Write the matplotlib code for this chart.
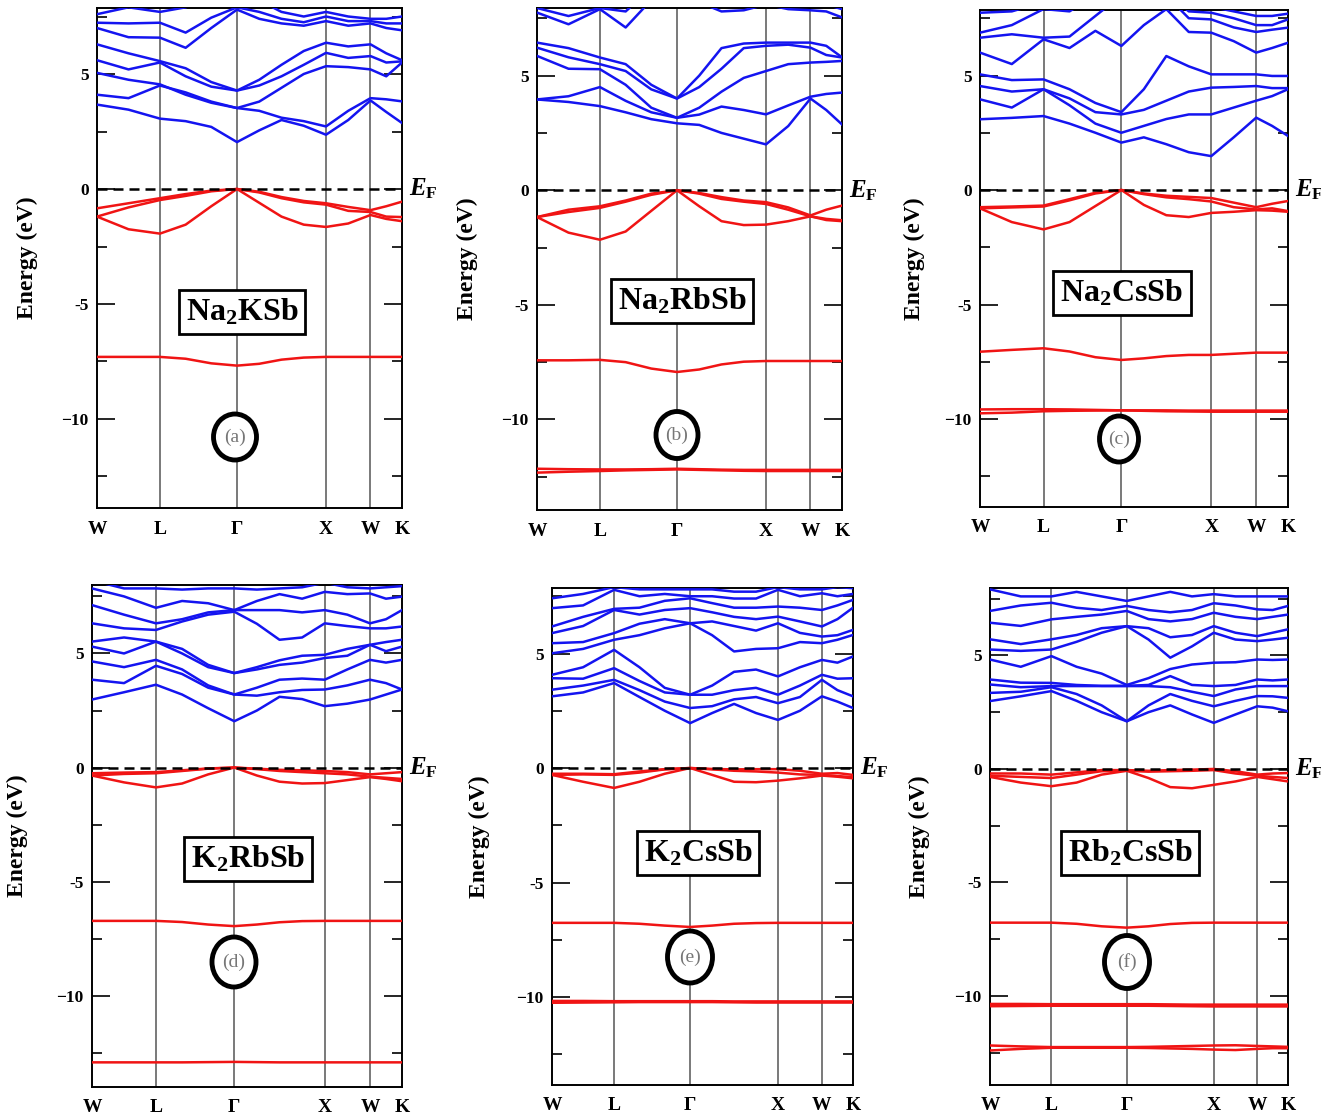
import matplotlib
matplotlib.use('Agg')
import matplotlib.pyplot as plt
from matplotlib.patches import Ellipse

plt.rcParams['font.family'] = ['Liberation Serif', 'DejaVu Serif']
plt.rcParams['font.weight'] = 'bold'
plt.rcParams['mathtext.fontset'] = 'custom'
plt.rcParams['mathtext.rm'] = 'Liberation Serif:bold'
plt.rcParams['mathtext.it'] = 'Liberation Serif:italic:bold'
plt.rcParams['mathtext.bf'] = 'Liberation Serif:bold'

# ---------------- data ----------------
kpath_labels = ['W', 'L', 'Γ', 'X', 'W', 'K']
kpath_ticks = [0.0, 0.707, 1.573, 2.573, 3.073, 3.427]
# sampling points along W-L-Γ-X-W-K
k_nodes = [0.0, 0.354, 0.707, 0.996, 1.284, 1.573, 1.823, 2.073, 2.323, 2.573, 2.823, 3.073, 3.250, 3.427]

compounds = ['Na$_2$KSb', 'Na$_2$RbSb', 'Na$_2$CsSb', 'K$_2$RbSb', 'K$_2$CsSb', 'Rb$_2$CsSb']
panel_letters = ['(a)', '(b)', '(c)', '(d)', '(e)', '(f)']

# ---- (a) Na2KSb ----
a_vb1 = [-0.84, -0.62, -0.40, -0.22, -0.07, 0.00, -0.12, -0.35, -0.52, -0.62, -0.78, -0.92, -0.75, -0.55]
a_vb2 = [-1.20, -0.80, -0.48, -0.30, -0.10, 0.00, -0.15, -0.40, -0.58, -0.68, -0.95, -1.00, -1.20, -1.22]
a_vb3 = [-1.20, -1.75, -1.94, -1.55, -0.75, 0.00, -0.60, -1.20, -1.55, -1.65, -1.50, -1.13, -1.30, -1.40]
a_s = [-7.30, -7.30, -7.30, -7.38, -7.58, -7.68, -7.60, -7.42, -7.33, -7.30, -7.30, -7.30, -7.30, -7.30]
a_c1 = [3.67, 3.45, 3.06, 2.95, 2.70, 2.04, 2.55, 3.00, 2.75, 2.36, 3.00, 3.85, 3.35, 2.87]
a_c2 = [4.10, 3.95, 4.50, 4.20, 3.80, 3.52, 3.40, 3.10, 2.95, 2.72, 3.40, 3.95, 3.90, 3.81]
a_c3 = [5.05, 4.75, 4.55, 4.10, 3.75, 3.52, 3.80, 4.40, 5.00, 5.34, 5.30, 5.20, 4.90, 5.50]
a_c4 = [5.60, 5.20, 5.50, 4.90, 4.45, 4.28, 4.50, 4.90, 5.40, 5.92, 5.70, 5.78, 5.50, 5.55]
a_c5 = [6.29, 5.90, 5.56, 5.25, 4.65, 4.28, 4.75, 5.40, 6.00, 6.36, 6.20, 6.29, 5.90, 5.60]
a_c6 = [7.00, 6.60, 6.58, 6.14, 7.00, 7.80, 7.40, 7.20, 7.10, 7.30, 7.10, 7.20, 7.00, 6.90]
a_c7 = [7.23, 7.20, 7.23, 6.80, 7.45, 7.90, 7.70, 7.40, 7.25, 7.50, 7.30, 7.30, 7.20, 7.20]
a_c8 = [7.60, 7.90, 7.70, 7.90, 8.30, 8.40, 8.20, 7.70, 7.50, 7.70, 7.50, 7.40, 7.40, 7.50]

# ---- (b) Na2RbSb ----
b_vb1 = [-1.17, -0.85, -0.70, -0.45, -0.15, 0.00, -0.12, -0.30, -0.45, -0.52, -0.75, -1.10, -0.85, -0.67]
b_vb2 = [-1.17, -0.95, -0.77, -0.50, -0.20, 0.00, -0.15, -0.38, -0.50, -0.60, -0.85, -1.14, -1.25, -1.31]
b_vb3 = [-1.17, -1.85, -2.16, -1.80, -0.90, 0.00, -0.70, -1.35, -1.52, -1.50, -1.35, -1.14, -1.30, -1.35]
b_s = [-7.42, -7.42, -7.40, -7.50, -7.78, -7.93, -7.82, -7.60, -7.48, -7.45, -7.45, -7.45, -7.45, -7.45]
b_d1 = [-12.15, -12.17, -12.18, -12.18, -12.17, -12.15, -12.17, -12.19, -12.20, -12.20, -12.20, -12.20, -12.20, -12.20]
b_d2 = [-12.32, -12.28, -12.25, -12.22, -12.20, -12.18, -12.20, -12.22, -12.24, -12.25, -12.25, -12.25, -12.25, -12.25]
b_c1 = [3.96, 3.85, 3.67, 3.40, 3.10, 2.92, 2.85, 2.50, 2.25, 2.00, 2.80, 4.00, 3.50, 2.87]
b_c2 = [3.96, 4.10, 4.50, 3.90, 3.40, 3.16, 3.30, 3.65, 3.50, 3.31, 3.70, 4.08, 4.20, 4.26]
b_c3 = [5.86, 5.30, 5.28, 4.60, 3.60, 3.16, 3.60, 4.30, 4.90, 5.20, 5.50, 5.57, 5.60, 5.64]
b_c4 = [6.22, 5.80, 5.50, 5.20, 4.40, 4.00, 4.50, 5.30, 6.20, 6.30, 6.35, 6.22, 5.90, 5.79]
b_c5 = [6.44, 6.20, 5.79, 5.50, 4.60, 4.00, 5.00, 6.20, 6.40, 6.44, 6.44, 6.44, 6.30, 5.80]
b_c6 = [7.75, 7.24, 7.90, 7.10, 8.30, 9.00, 8.20, 7.80, 7.85, 8.10, 7.90, 7.85, 7.80, 7.54]
b_c7 = [7.95, 7.60, 7.95, 7.80, 8.80, 9.20, 8.60, 8.10, 8.00, 8.30, 8.00, 8.20, 8.10, 7.90]

# ---- (c) Na2CsSb ----
c_vb1 = [-0.75, -0.72, -0.68, -0.40, -0.12, 0.00, -0.15, -0.25, -0.30, -0.35, -0.55, -0.75, -0.60, -0.48]
c_vb2 = [-0.80, -0.76, -0.72, -0.45, -0.15, 0.00, -0.18, -0.32, -0.40, -0.50, -0.75, -0.85, -0.80, -0.92]
c_vb3 = [-0.80, -1.40, -1.72, -1.40, -0.70, 0.00, -0.65, -1.10, -1.18, -1.00, -0.95, -0.88, -0.90, -0.95]
c_s = [-7.06, -6.98, -6.91, -7.05, -7.30, -7.42, -7.35, -7.25, -7.20, -7.20, -7.15, -7.10, -7.10, -7.10]
c_d1 = [-9.58, -9.57, -9.57, -9.58, -9.60, -9.62, -9.62, -9.62, -9.63, -9.63, -9.63, -9.63, -9.63, -9.63]
c_d2 = [-9.75, -9.72, -9.66, -9.64, -9.63, -9.62, -9.64, -9.66, -9.67, -9.68, -9.68, -9.68, -9.68, -9.68]
c_c1 = [3.09, 3.15, 3.23, 2.90, 2.50, 2.07, 2.30, 2.00, 1.65, 1.48, 2.30, 3.16, 2.80, 2.36]
c_c2 = [3.96, 3.60, 4.40, 3.70, 2.90, 2.50, 2.80, 3.10, 3.30, 3.30, 3.60, 3.90, 4.10, 4.40]
c_c3 = [4.54, 4.30, 4.40, 4.00, 3.40, 3.30, 3.50, 3.90, 4.30, 4.47, 4.50, 4.54, 4.45, 4.45]
c_c4 = [5.05, 4.80, 4.83, 4.40, 3.80, 3.40, 4.40, 5.85, 5.40, 5.05, 5.05, 5.05, 4.98, 4.98]
c_c5 = [6.00, 5.50, 6.58, 6.20, 6.95, 6.29, 7.20, 7.90, 6.90, 6.87, 6.50, 6.00, 6.20, 6.43]
c_c6 = [6.65, 6.80, 6.65, 6.70, 7.60, 8.50, 8.30, 8.50, 7.50, 7.45, 7.10, 6.90, 7.00, 7.09]
c_c7 = [6.87, 7.20, 7.90, 7.80, 8.50, 9.00, 8.80, 8.60, 7.80, 7.74, 7.50, 7.20, 7.20, 7.45]
c_c8 = [7.74, 7.80, 8.20, 8.50, 9.00, 9.50, 9.00, 9.00, 8.20, 8.00, 7.80, 7.60, 7.60, 7.70]

# ---- (d) K2RbSb ----
d_vb1 = [-0.25, -0.22, -0.20, -0.12, -0.04, 0.00, -0.05, -0.10, -0.12, -0.15, -0.20, -0.30, -0.25, -0.20]
d_vb2 = [-0.35, -0.28, -0.25, -0.15, -0.05, 0.00, -0.07, -0.15, -0.20, -0.25, -0.30, -0.40, -0.45, -0.50]
d_vb3 = [-0.35, -0.65, -0.87, -0.70, -0.30, 0.00, -0.35, -0.62, -0.70, -0.68, -0.55, -0.42, -0.50, -0.60]
d_s = [-6.72, -6.72, -6.72, -6.77, -6.88, -6.95, -6.88, -6.78, -6.73, -6.72, -6.72, -6.72, -6.72, -6.72]
d_d1 = [-12.92, -12.92, -12.92, -12.92, -12.91, -12.90, -12.91, -12.92, -12.92, -12.92, -12.92, -12.92, -12.92, -12.92]
d_c1 = [2.98, 3.30, 3.63, 3.20, 2.60, 2.03, 2.50, 3.10, 3.00, 2.69, 2.80, 2.98, 3.20, 3.42]
d_c2 = [3.85, 3.70, 4.46, 4.10, 3.50, 3.20, 3.15, 3.30, 3.40, 3.42, 3.60, 3.85, 3.70, 3.42]
d_c3 = [4.65, 4.40, 4.72, 4.30, 3.60, 3.20, 3.50, 3.85, 3.90, 3.85, 4.30, 4.72, 4.60, 4.72]
d_c4 = [5.30, 5.00, 5.52, 5.00, 4.40, 4.14, 4.30, 4.50, 4.60, 4.80, 4.90, 5.38, 5.10, 5.30]
d_c5 = [5.52, 5.70, 5.52, 5.20, 4.50, 4.14, 4.40, 4.70, 4.90, 4.94, 5.20, 5.38, 5.50, 5.60]
d_c6 = [6.32, 6.10, 6.03, 6.40, 6.70, 6.83, 6.30, 5.60, 5.70, 6.32, 6.20, 6.10, 6.10, 6.18]
d_c7 = [7.12, 6.70, 6.32, 6.50, 6.80, 6.90, 6.90, 6.90, 6.80, 6.90, 6.70, 6.32, 6.50, 6.90]
d_c8 = [7.85, 7.50, 7.00, 7.30, 7.20, 6.90, 7.30, 7.60, 7.40, 7.70, 7.60, 7.63, 7.40, 7.49]
d_c9 = [8.20, 7.85, 7.85, 7.80, 7.85, 7.85, 7.80, 7.85, 7.90, 8.10, 7.90, 7.85, 7.90, 7.95]

# ---- (e) K2CsSb ----
e_vb1 = [-0.25, -0.25, -0.27, -0.15, -0.05, 0.00, -0.04, -0.06, -0.05, -0.05, -0.12, -0.25, -0.22, -0.30]
e_vb2 = [-0.30, -0.28, -0.30, -0.20, -0.06, 0.00, -0.06, -0.12, -0.15, -0.20, -0.28, -0.30, -0.35, -0.40]
e_vb3 = [-0.30, -0.60, -0.87, -0.60, -0.25, 0.00, -0.30, -0.60, -0.62, -0.55, -0.45, -0.33, -0.38, -0.45]
e_s = [-6.76, -6.76, -6.76, -6.80, -6.88, -6.94, -6.88, -6.80, -6.77, -6.76, -6.76, -6.76, -6.76, -6.76]
e_d1 = [-10.17, -10.17, -10.18, -10.18, -10.18, -10.18, -10.18, -10.19, -10.19, -10.19, -10.19, -10.19, -10.19, -10.19]
e_d2 = [-10.25, -10.24, -10.23, -10.22, -10.22, -10.22, -10.22, -10.23, -10.24, -10.24, -10.24, -10.24, -10.24, -10.24]
e_c1 = [3.13, 3.30, 3.71, 3.10, 2.50, 1.96, 2.40, 2.80, 2.40, 2.10, 2.50, 3.13, 2.90, 2.62]
e_c2 = [3.42, 3.60, 3.85, 3.40, 2.90, 2.62, 2.70, 3.00, 3.10, 2.83, 3.10, 3.85, 3.40, 3.13]
e_c3 = [3.92, 3.90, 4.36, 3.80, 3.30, 3.20, 3.20, 3.40, 3.50, 3.20, 3.60, 4.07, 3.90, 3.92]
e_c4 = [4.07, 4.40, 5.16, 4.40, 3.50, 3.20, 3.60, 4.20, 4.30, 4.00, 4.40, 4.72, 4.60, 4.87]
e_c5 = [5.01, 5.20, 5.60, 5.80, 6.10, 6.32, 5.80, 5.09, 5.20, 5.23, 5.50, 5.45, 5.60, 5.81]
e_c6 = [5.45, 5.50, 5.89, 6.30, 6.50, 6.32, 6.40, 6.20, 6.00, 6.32, 5.90, 5.74, 5.80, 6.03]
e_c7 = [5.89, 6.20, 6.90, 6.70, 6.90, 6.98, 6.80, 6.60, 6.50, 6.61, 6.40, 6.18, 6.50, 7.00]
e_c8 = [6.18, 6.60, 6.95, 7.00, 7.30, 7.41, 7.20, 7.00, 7.00, 7.05, 7.00, 6.90, 7.10, 7.34]
e_c9 = [6.98, 7.10, 7.78, 7.50, 7.60, 7.50, 7.50, 7.40, 7.40, 7.78, 7.50, 7.63, 7.50, 7.60]
e_c10 = [7.41, 7.60, 7.90, 7.80, 7.80, 7.80, 7.80, 7.70, 7.70, 7.90, 7.80, 7.80, 7.90, 7.85]

# ---- (f) Rb2CsSb ----
f_vb1 = [-0.20, -0.20, -0.25, -0.15, -0.05, -0.05, -0.08, -0.05, -0.03, 0.00, -0.10, -0.25, -0.20, -0.18]
f_vb2 = [-0.30, -0.35, -0.40, -0.25, -0.10, -0.08, -0.12, -0.10, -0.08, -0.05, -0.20, -0.30, -0.35, -0.40]
f_vb3 = [-0.35, -0.60, -0.76, -0.60, -0.25, -0.08, -0.40, -0.80, -0.85, -0.70, -0.55, -0.35, -0.45, -0.55]
f_s = [-6.77, -6.77, -6.77, -6.82, -6.93, -6.99, -6.93, -6.83, -6.78, -6.77, -6.77, -6.77, -6.77, -6.77]
f_d1 = [-10.35, -10.35, -10.36, -10.36, -10.36, -10.36, -10.36, -10.37, -10.38, -10.38, -10.38, -10.38, -10.38, -10.38]
f_d2 = [-10.45, -10.44, -10.43, -10.43, -10.43, -10.43, -10.43, -10.44, -10.45, -10.46, -10.46, -10.46, -10.46, -10.46]
f_d3 = [-12.18, -12.22, -12.25, -12.25, -12.25, -12.25, -12.24, -12.22, -12.20, -12.18, -12.17, -12.20, -12.22, -12.24]
f_d4 = [-12.40, -12.33, -12.28, -12.28, -12.28, -12.28, -12.29, -12.31, -12.33, -12.36, -12.38, -12.33, -12.30, -12.30]
f_c1 = [2.99, 3.20, 3.43, 3.00, 2.50, 2.10, 2.50, 2.80, 2.40, 2.03, 2.40, 2.76, 2.70, 2.54]
f_c2 = [3.35, 3.40, 3.60, 3.30, 2.80, 2.10, 2.80, 3.30, 3.00, 2.76, 3.00, 3.21, 3.20, 3.13]
f_c3 = [3.72, 3.60, 3.65, 3.65, 3.65, 3.65, 3.65, 3.60, 3.40, 3.21, 3.50, 3.65, 3.65, 3.65]
f_c4 = [3.94, 3.80, 3.79, 3.70, 3.66, 3.66, 3.70, 4.09, 3.70, 3.65, 3.70, 3.94, 3.90, 3.94]
f_c5 = [4.82, 4.50, 4.97, 4.50, 4.20, 3.70, 4.00, 4.40, 4.60, 4.68, 4.70, 4.82, 4.80, 4.82]
f_c6 = [5.26, 5.20, 5.26, 5.60, 6.00, 6.29, 5.70, 4.90, 5.40, 6.00, 5.70, 5.63, 5.70, 5.78]
f_c7 = [5.71, 5.50, 5.71, 5.90, 6.20, 6.29, 6.20, 5.80, 5.90, 6.29, 6.00, 5.85, 6.00, 6.15]
f_c8 = [6.44, 6.30, 6.59, 6.70, 6.80, 6.96, 6.60, 6.50, 6.60, 6.88, 6.70, 6.60, 6.70, 6.80]
f_c9 = [6.96, 7.20, 7.32, 7.10, 7.00, 7.18, 7.00, 6.90, 7.00, 7.30, 7.20, 7.03, 7.00, 7.18]
f_c10 = [7.91, 7.60, 7.60, 7.80, 7.60, 7.40, 7.60, 7.80, 7.60, 7.70, 7.60, 7.60, 7.60, 7.60]

valence = [
    [a_vb1, a_vb2, a_vb3, a_s],
    [b_vb1, b_vb2, b_vb3, b_s, b_d1, b_d2],
    [c_vb1, c_vb2, c_vb3, c_s, c_d1, c_d2],
    [d_vb1, d_vb2, d_vb3, d_s, d_d1],
    [e_vb1, e_vb2, e_vb3, e_s, e_d1, e_d2],
    [f_vb1, f_vb2, f_vb3, f_s, f_d1, f_d2, f_d3, f_d4],
]
conduction = [
    [a_c1, a_c2, a_c3, a_c4, a_c5, a_c6, a_c7, a_c8],
    [b_c1, b_c2, b_c3, b_c4, b_c5, b_c6, b_c7],
    [c_c1, c_c2, c_c3, c_c4, c_c5, c_c6, c_c7, c_c8],
    [d_c1, d_c2, d_c3, d_c4, d_c5, d_c6, d_c7, d_c8, d_c9],
    [e_c1, e_c2, e_c3, e_c4, e_c5, e_c6, e_c7, e_c8, e_c9, e_c10],
    [f_c1, f_c2, f_c3, f_c4, f_c5, f_c6, f_c7, f_c8, f_c9, f_c10],
]

# ---------------- layout (pixel geometry of the reference) ----------------
W_PX, H_PX = 1321, 1115
axes_px = [(97, 8, 402, 508), (537, 8, 842, 510), (980, 10, 1288, 507),
           (92, 585, 402, 1087), (552, 588, 853, 1085), (990, 588, 1288, 1085)]
ylims = [(-13.87, 7.87), (-13.95, 7.95), (-13.84, 7.86),
         (-14.0, 8.0), (-13.84, 7.86), (-13.92, 7.97)]
box_px = [(242, 312), (682, 301), (1122, 293), (248, 859), (698, 853), (1130, 853)]
ell_px = [(235, 437, 43, 46), (677, 435, 42, 47), (1119, 439, 39, 46),
          (234, 962, 44, 50), (690, 957, 45, 52), (1127, 962, 45, 53)]
ylab_x = [-0.193, -0.193, -0.179, -0.206, -0.206, -0.201]

fig = plt.figure(figsize=(W_PX / 100, H_PX / 100), dpi=100)

blue = '#1414f0'
red = '#f01414'

for i in range(6):
    l, t, r, b = axes_px[i]
    ax = fig.add_axes([l / W_PX, 1 - b / H_PX, (r - l) / W_PX, (b - t) / H_PX])
    ax.set_xlim(kpath_ticks[0], kpath_ticks[-1])
    ax.set_ylim(*ylims[i])
    for kx in kpath_ticks[1:-1]:
        ax.axvline(kx, color='#555555', lw=1.1, zorder=1)
    for band in conduction[i]:
        ax.plot(k_nodes, band, color=blue, lw=1.8, zorder=3, solid_joinstyle='round')
    for band in valence[i]:
        ax.plot(k_nodes, band, color=red, lw=1.8, zorder=3, solid_joinstyle='round')
    ax.axhline(0, color='black', lw=1.8, ls=(0, (4, 2.4)), zorder=4)

    ax.set_xticks(kpath_ticks)
    ax.set_xticklabels(kpath_labels, fontsize=14, fontweight='bold')
    ax.tick_params(axis='x', length=0, pad=9)
    ax.set_yticks([-10, -5, 0, 5])
    ax.set_yticklabels(['\u221210', '-5', '0', '5'], fontsize=12.5, fontweight='bold')
    ax.set_yticks([-12.5, -7.5, -2.5, 2.5, 7.5], minor=True)
    ax.tick_params(axis='y', which='major', direction='in', length=13, width=1.2,
                   left=True, right=True, pad=6)
    ax.tick_params(axis='y', which='minor', direction='in', length=7, width=1.2,
                   left=True, right=True)
    for sp in ax.spines.values():
        sp.set_linewidth(1.4)

    ax.set_ylabel('Energy (eV)', fontsize=17, fontweight='bold')
    ax.yaxis.set_label_coords(ylab_x[i], 0.5)

    ax.annotate(r'$E_{\mathbf{F}}$', xy=(1, 0), xycoords=('axes fraction', 'data'),
                xytext=(5, 0), textcoords='offset points', va='center', ha='left',
                fontsize=18, annotation_clip=False)

    bx, by = box_px[i]
    fig.text(bx / W_PX, 1 - by / H_PX, compounds[i], fontsize=23, fontweight='bold',
             ha='center', va='center', zorder=6,
             bbox=dict(boxstyle='square,pad=0.22', fc='white', ec='black', lw=2.0))

    ex, ey, ew, eh = ell_px[i]
    fig.add_artist(Ellipse((ex / W_PX, 1 - ey / H_PX), ew / W_PX, eh / H_PX,
                           transform=fig.transFigure, fc='white', ec='black', lw=3.5, zorder=6))
    fig.text(ex / W_PX, 1 - ey / H_PX, panel_letters[i], fontsize=14, fontweight='normal',
             color='#777777', ha='center', va='center', zorder=7)

fig.savefig('out.png', dpi=100)
